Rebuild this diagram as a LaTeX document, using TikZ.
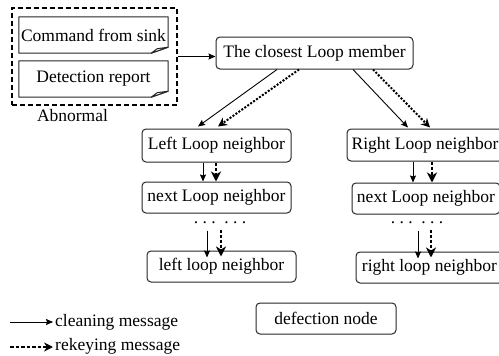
\documentclass[tikz,border=0pt]{standalone}
\usepackage{fontspec}
\setmainfont{Liberation Serif}
\usetikzlibrary{arrows.meta}
\begin{document}
\begin{tikzpicture}[x=1pt,y=-1pt,
  every node/.style={font=\fontsize{17.5}{20}\selectfont, inner sep=0pt},
  box/.style={draw=black!85, line width=1pt, rounded corners=4pt},
  plain/.style={draw=none},
  cln/.style={line width=0.9pt, -{Stealth[length=7pt,width=6pt,inset=1pt]}},
  rkd/.style={line width=2pt, dash pattern=on 2pt off 1.6pt, -{Stealth[length=9pt,width=9pt,inset=3pt]}},
  rkv/.style={line width=2.4pt, dash pattern=on 3pt off 2pt, -{Stealth[length=10pt,width=10pt,inset=3pt]}},
  notebox/.style={draw=black!85, line width=1pt, line join=round}]
\useasboundingbox (0,0) rectangle (499,356);
\clip (0,0) rectangle (499,356);
% abnormal group
\node[plain, minimum width=149pt, minimum height=36pt] (cmd) at (93.5,35) {Command from sink};
\node[plain, minimum width=149pt, minimum height=36pt] (det) at (93.5,79) {Detection report};
\foreach \n in {cmd,det}{
  \draw[notebox] (\n.north west) -- (\n.north east) -- ([yshift=6pt]\n.south east)
     -- ([xshift=-17pt]\n.south east) -- (\n.south west) -- cycle;
  \draw[notebox, fill=white] ([xshift=-17pt]\n.south east) -- ([xshift=-11pt,yshift=4.5pt]\n.south east)
     -- ([yshift=6pt]\n.south east) -- cycle;
}
\node[draw, line width=1.4pt, dash pattern=on 5pt off 3pt, minimum width=165pt, minimum height=97pt] (abn) at (94.5,56.5) {};
\node (abnl) at (72.5,116) {Abnormal};
% main nodes
\node[box, minimum width=197pt, minimum height=32pt] (cl) at (314.5,53) {The closest Loop member};
\node[box, minimum width=149pt, minimum height=33pt] (lln) at (216.5,145.5) {Left Loop neighbor};
\node[box, minimum width=156pt, minimum height=32pt] (rln) at (425,145) {Right Loop neighbor};
\node[box, minimum width=149pt, minimum height=31pt] (nll) at (216.5,197.5) {next Loop neighbor};
\node[box, minimum width=148pt, minimum height=31pt] (nlr) at (426,198.5) {next Loop neighbor};
\node[anchor=base] (ldots) at (220,223.5) {.\ .\ .\ \ .\ .\ .};
\node[anchor=base] (rdots) at (417,223.5) {.\ .\ .\ \ .\ .\ .};
\node[box, minimum width=149pt, minimum height=31pt] (lll) at (221.5,266.5) {left loop neighbor};
\node[box, minimum width=147pt, minimum height=31pt] (rll) at (429.5,267.5) {right loop neighbor};
\node[box, minimum width=140pt, minimum height=31pt] (def) at (326,318.5) {defection node};
% connectors
\draw[cln] (abn.east) -- (abn.east -| cl.west);
\draw[cln] ([xshift=-37.5pt]cl.south) -- ([xshift=-18.5pt,yshift=2pt]lln.north);
\draw[rkd] ([xshift=-15.5pt]cl.south) -- ([xshift=1.5pt,yshift=2pt]lln.north);
\draw[cln] ([xshift=38.5pt]cl.south) -- ([xshift=-17pt,yshift=1pt]rln.north);
\draw[rkd] ([xshift=58.5pt]cl.south) -- ([xshift=5pt,yshift=1pt]rln.north);
\draw[cln] ([xshift=-13.5pt]lln.south) -- ([xshift=-13.5pt]lln.south |- nll.north);
\draw[rkv] ([xshift=-0.5pt]lln.south) -- ([xshift=-0.5pt]lln.south |- nll.north);
\draw[cln] ([xshift=-12pt]rln.south) -- ([xshift=-12pt]rln.south |- nlr.north);
\draw[rkv] ([xshift=7pt]rln.south) -- ([xshift=7pt]rln.south |- nlr.north);
\draw[cln] ([xshift=-13pt,yshift=-7pt]ldots.base) -- ([xshift=-13pt,yshift=-7pt]ldots.base |- lll.north);
\draw[rkv] ([xshift=1pt,yshift=-6pt]ldots.base) -- ([xshift=1pt,yshift=-6pt]ldots.base |- lll.north);
\draw[cln] ([xshift=1pt,yshift=-7pt]rdots.base) -- ([xshift=1pt,yshift=-7pt]rdots.base |- rll.north);
\draw[rkv] ([xshift=14pt,yshift=-6pt]rdots.base) -- ([xshift=14pt,yshift=-6pt]rdots.base |- rll.north);
% legend
\node[anchor=west] (lgc) at (55,322) {cleaning message};
\node[anchor=west] (lgr) at (55,346) {rekeying message};
\coordinate (lgca) at (10,322);
\coordinate (lgra) at (10,347);
\draw[cln] (lgca) -- ([xshift=-2pt]lgca -| lgc.west);
\draw[line width=2.4pt, dash pattern=on 3.5pt off 2pt, -{Stealth[length=9pt,width=9pt,inset=3pt]}] (lgra) -- ([xshift=-2pt]lgra -| lgr.west);
\end{tikzpicture}
\end{document}
